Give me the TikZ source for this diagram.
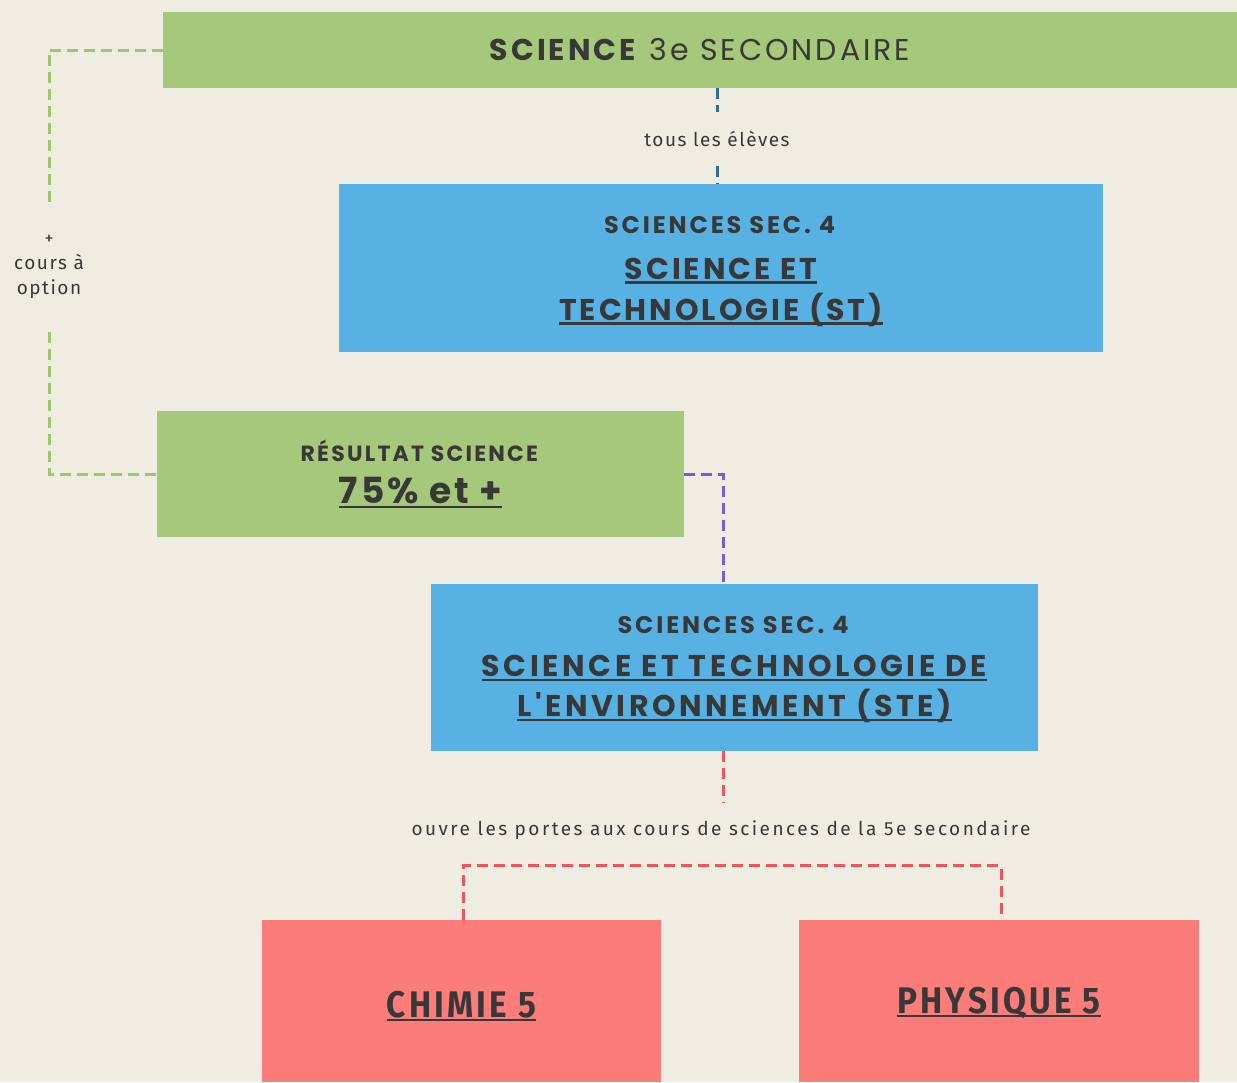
\documentclass[tikz,border=0pt]{standalone}
\usepackage{fontspec}
\setmainfont{Poppins}[Ligatures=TeXOff]
\newfontfamily\smallf{Fira Sans}
\newfontfamily\condf[FakeStretch=0.9]{Fira Sans}
\definecolor{bg}{HTML}{EFEDE2}
\definecolor{gbox}{HTML}{A6C87A}
\definecolor{bbox}{HTML}{58B1E3}
\definecolor{rbox}{HTML}{FC7C79}
\definecolor{txt}{HTML}{383838}
\definecolor{bline}{HTML}{2E6F98}
\definecolor{pline}{HTML}{7A5CCB}
\definecolor{rline}{HTML}{F2545B}
\definecolor{gline}{HTML}{9CC76A}
\newcommand\myul[2][-4.5pt]{\setbox0\hbox{#2}\leavevmode\rlap{\rule[#1]{\wd0}{2.3pt}}\box0}
\tikzset{
  box/.style={rectangle, inner sep=0pt, align=center, text=txt},
  btext/.style={inner sep=0pt, align=center, text=txt},
  conn/.style={line width=3pt, dash pattern=on 11pt off 6pt},
  lab/.style={inner xsep=2pt, inner ysep=0pt, text=txt, align=center}
}
\begin{document}
\begin{tikzpicture}[x=1pt,y=-1pt]
\fill[bg] (0,0) rectangle (1237,1082);
\useasboundingbox (0,0) rectangle (1237,1082);
% boxes
\node[box, fill=gbox, minimum width=1074pt, minimum height=76pt] (top) at (700,50)
  {\fontsize{30}{36}\selectfont\addfontfeature{LetterSpace=10}\textbf{SCIENCE} 3e SECONDAIRE};
\node[box, fill=bbox, minimum width=764pt, minimum height=168pt] (st) at (721,268) {};
\node[btext, font={\fontsize{30}{41}\selectfont}] (stt) at ([yshift=-3pt]st.center)
  {\fontsize{24}{30}\selectfont\addfontfeature{LetterSpace=12}\textbf{SCIENCES SEC. 4}\\[5pt]
   \fontsize{30}{41}\selectfont\addfontfeature{LetterSpace=10}\textbf{\myul{SCIENCE ET}}\\
   \fontsize{30}{41}\selectfont\addfontfeature{LetterSpace=10}\textbf{\myul{TECHNOLOGIE (ST)}}};
\node[box, fill=gbox, minimum width=527pt, minimum height=126pt,
      font={\fontsize{36}{40}\selectfont}] (res) at (420.5,474)
  {\fontsize{22}{26}\selectfont\addfontfeature{LetterSpace=10}\textbf{RÉSULTAT SCIENCE}\\[2pt]
   \fontsize{36}{40}\selectfont\addfontfeature{LetterSpace=8}\textbf{\myul[-5pt]{75\% et +}}};
\node[box, fill=bbox, minimum width=607pt, minimum height=167pt] (ste) at (734.5,667.5) {};
\node[btext, font={\fontsize{30}{40}\selectfont}] (stet) at ([yshift=-2pt]ste.center)
  {\fontsize{24}{30}\selectfont\addfontfeature{LetterSpace=12}\textbf{SCIENCES SEC. 4}\\[3pt]
   \fontsize{30}{40}\selectfont\addfontfeature{LetterSpace=12}\textbf{\myul{SCIENCE ET TECHNOLOGIE DE}}\\
   \fontsize{30}{40}\selectfont\addfontfeature{LetterSpace=12}\textbf{\myul{L'ENVIRONNEMENT (STE)}}};
\node[box, fill=rbox, minimum width=399pt, minimum height=162pt] (chim) at (461.5,1001) {};
\node[btext] (chimt) at ([yshift=-5pt]chim.center)
  {\condf\fontsize{37}{40}\selectfont\addfontfeature{LetterSpace=8.5}\textbf{\myul[-4pt]{CHIMIE 5}}};
\node[box, fill=rbox, minimum width=400pt, minimum height=162pt] (phys) at (999,1001) {};
\node[btext] (physt) at ([yshift=-2pt]phys.center)
  {\condf\fontsize{37}{40}\selectfont\addfontfeature{LetterSpace=8.5}\textbf{\myul[-4pt]{PHYSIQUE 5}}};
% labels
\node[lab, inner ysep=19pt, font={\smallf\fontsize{19}{22}\selectfont}] (el) at (717,139)
  {\addfontfeature{LetterSpace=8}tous les élèves};
\node[lab, inner ysep=33pt, font={\smallf\fontsize{19}{25}\selectfont}] (opt) at (49,267)
  {{\fontsize{18}{18}\selectfont +}\\\addfontfeature{LetterSpace=8}cours à\\\addfontfeature{LetterSpace=8}option};
\node[lab, inner ysep=18pt, font={\smallf\fontsize{19}{22}\selectfont}] (ouv) at (721,830)
  {\addfontfeature{LetterSpace=13}ouvre les portes aux cours de sciences de la 5e secondaire};
\coordinate (pv) at (723,584);
% connectors
\draw[conn, color=bline] (top.south -| el.north) -- (el.north);
\draw[conn, color=bline] (el.south) -- (el.south |- st.north);
\draw[conn, color=gline] (top.west) -| (opt.north);
\draw[conn, color=gline] (opt.south) |- (res.west);
\draw[conn, color=pline] (res.east) -| (pv);
\draw[conn, color=rline] (ste.south -| pv) -- (pv |- ouv.north);
\draw[conn, color=rline] ([xshift=1.5pt]chim.north) -- ++(0,-54) -| ([xshift=2pt]phys.north);
\end{tikzpicture}
\end{document}
